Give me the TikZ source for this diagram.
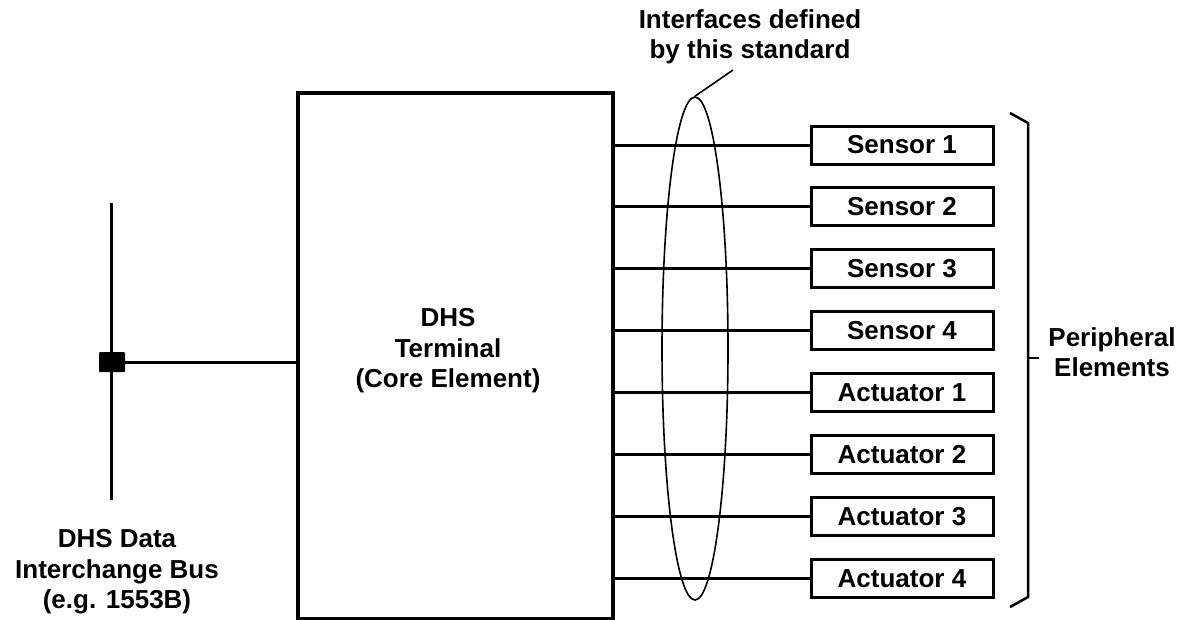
\documentclass[tikz,border=0pt]{standalone}
\usepackage{fontspec}
\setmainfont{Liberation Sans}
\usetikzlibrary{shapes.geometric}
\begin{document}
\begin{tikzpicture}[x=1pt,y=-1pt,
  lbl/.style={font=\fontsize{26}{30.5}\selectfont\bfseries, align=center, inner sep=0pt},
  perbox/.style={draw, line width=3pt, minimum width=182pt, minimum height=38pt, inner sep=0pt, font=\fontsize{26}{30}\selectfont\bfseries},
  wire/.style={line width=3pt},
  thin/.style={line width=1.6pt}]
\useasboundingbox (0,0) rectangle (1190,619);
% terminal box
\node[draw, line width=3.5pt, minimum width=315pt, minimum height=526pt, inner sep=0pt] (term) at (455.5,356) {};
\node[lbl] (termtxt) at (448,351) {DHS\\Terminal\\(Core Element)};
% peripherals
\foreach \i/\t in {1/Sensor 1,2/Sensor 2,3/Sensor 3,4/Sensor 4,5/Actuator 1,6/Actuator 2,7/Actuator 3,8/Actuator 4}{
  \node[perbox] (p\i) at (902,{145+61.9*(\i-1)}) {\t};
  \draw[wire] (term.east |- p\i) -- (p\i.west);
}
% interfaces ellipse
\node[draw, thin, ellipse, minimum width=66pt, minimum height=503pt, inner sep=0pt] (iface) at (695,348.5) {};
\coordinate (ptr) at (733,70);
\draw[thin] (iface.north) -- (ptr);
\node[lbl] (ifacetxt) at (750,37) {Interfaces defined\\by this standard};
% bus
\coordinate (bustop) at (111,203);
\coordinate (busbot) at (111,500);
\draw[wire] (bustop) -- (busbot);
\node[fill=black, minimum width=26pt, minimum height=20pt, inner sep=0pt, rounded corners=1pt] (junc) at (112,362) {};
\draw[wire] (junc.east) -- (term.west |- junc);
\node[lbl] (bustxt) at (117,572) {DHS Data\\Interchange Bus\\(e.g. 1553B)};
% brace
\coordinate (bt0) at (1010,113);
\coordinate (bt1) at (1028,123);
\coordinate (bb1) at (1028,597);
\coordinate (bb0) at (1010,607);
\coordinate (bm) at (1028,358);
\coordinate (bmt) at (1039,358);
\draw[wire, line width=2.5pt] (bt0) -- (bt1) -- (bb1) -- (bb0);
\draw[wire, line width=2.5pt] (bm) -- (bmt);
\node[lbl] (pertxt) at (1112,352) {Peripheral\\Elements};
\end{tikzpicture}
\end{document}
